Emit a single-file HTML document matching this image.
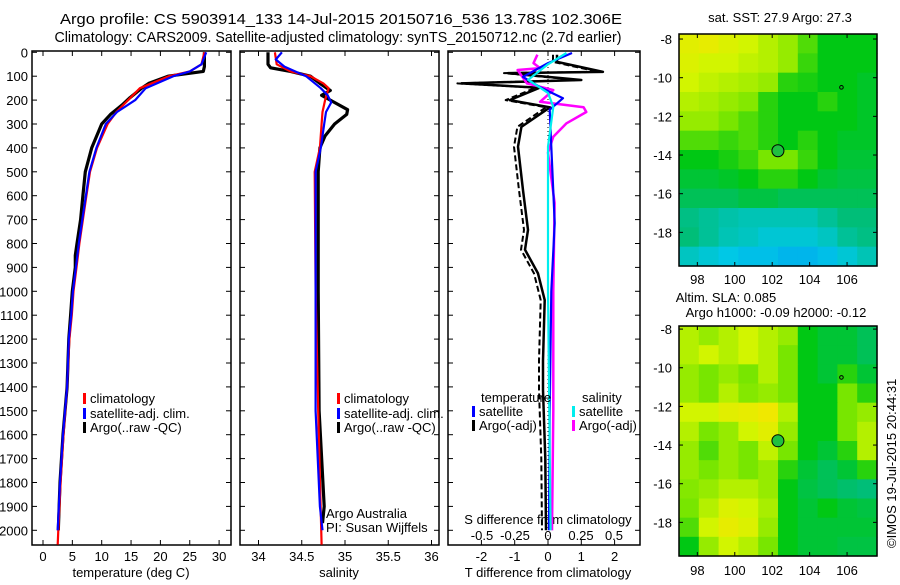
<!DOCTYPE html>
<html><head><meta charset="utf-8"><style>
body{margin:0;background:#fff;}
svg text{font-family:"Liberation Sans",sans-serif;fill:#000;}
</style></head><body>
<svg id="s" width="900" height="580" xmlns="http://www.w3.org/2000/svg">
<text x="341" y="24" font-size="15" text-anchor="middle" textLength="562" lengthAdjust="spacingAndGlyphs">Argo profile: CS 5903914_133 14-Jul-2015 20150716_536 13.78S 102.306E</text>
<text x="338" y="42" font-size="15" text-anchor="middle" textLength="567" lengthAdjust="spacingAndGlyphs">Climatology: CARS2009. Satellite-adjusted climatology: synTS_20150712.nc (2.7d earlier)</text>
<text x="780" y="22" font-size="13" text-anchor="middle">sat. SST: 27.9 Argo: 27.3</text>
<text x="726" y="302" font-size="13" text-anchor="middle">Altim. SLA: 0.085</text>
<text x="776" y="317" font-size="13" text-anchor="middle">Argo h1000: -0.09 h2000: -0.12</text>
<text transform="translate(896,548) rotate(-90)" font-size="13">©IMOS 19-Jul-2015 20:44:31</text>
</svg>
<script>
// ---- data ----
const depthTicks=[0,100,200,300,400,500,600,700,800,900,1000,1100,1200,1300,1400,1500,1600,1700,1800,1900,2000];
const tempTicks=[0,5,10,15,20,25,30];
const salTicks=[34,34.5,35,35.5,36];
const tdiffTicks=[-2,-1,0,1,2];
const sdiffTicks=[-0.5,-0.25,0,0.25,0.5];
const sdiffLabels=["-0.5","-0.25","0","0.25","0.5"];
const lonTicks=[98,100,102,104,106];
const latTicks=[-8,-10,-12,-14,-16,-18];

const tClimDepth=[0,50,80,100,150,200,250,300,400,500,600,700,800,900,1000,1100,1200,1400,1600,1800,2000,2060];
const tClimVal=[27.5,27,25,21.5,16.5,14.5,12.5,11,9.2,8,7.4,6.8,6.2,5.7,5.2,4.9,4.5,4.1,3.5,3.0,2.6,2.5];
const tSatDepth=[0,50,80,100,150,200,250,300,400,500,600,700,800,900,1000,1100,1200,1400,1600,1800,2000];
const tSatVal=[27.8,27,25,22.2,17.5,15.7,12.6,10.7,9.1,7.9,7.3,6.7,6.1,5.6,5.1,4.8,4.4,4.1,3.4,2.9,2.5];
const tArgoDepth=[0,60,80,100,130,150,190,220,260,300,400,500,600,700,800,850,900,1000,1100,1200,1400,1600,1800,2000];
const tArgoVal=[27.5,27.5,27.3,21.3,18,16.8,14.8,13.5,11.5,10,8.3,7.2,6.8,6.4,5.8,5.5,5.5,5.0,4.7,4.4,4.1,3.4,2.9,2.6];

const sClimDepth=[0,50,80,100,130,150,200,250,300,400,500,1000,1500,2060];
const sClimVal=[34.19,34.21,34.37,34.6,34.75,34.81,34.77,34.74,34.73,34.71,34.65,34.66,34.69,34.73];
const sSatDepth=[0,30,60,100,150,180,210,250,300,400,500,1000,1500,1900,2000];
const sSatVal=[34.27,34.2,34.3,34.55,34.72,34.8,34.84,34.78,34.76,34.72,34.66,34.66,34.66,34.71,34.74];
const sArgoDepth=[0,50,65,80,100,130,160,180,200,240,260,300,350,400,500,1000,1500,1900,1970];
const sArgoVal=[34.11,34.11,34.14,34.37,34.6,34.71,34.83,34.73,34.83,35.03,35.02,34.88,34.77,34.71,34.69,34.69,34.7,34.76,34.74];

const dTArgoDepth=[10,40,82,87,116,130,148,200,230,312,395,577,743,826,925,1037,1290,1413,1700,2000];
const dTArgoVal=[0.27,0.27,1.65,-1.2,1.0,-2.6,-0.25,-1.15,0.06,-0.8,-0.9,-0.75,-0.6,-0.69,-0.3,-0.1,-0.15,-0.15,-0.08,-0.06];
const dTSatDepth=[3,45,103,145,192,240,395,715,1000,1500,2000];
const dTSatVal=[0.72,0,-0.75,-0.25,0.45,0.05,0.1,0.2,0.1,0.05,0.03];
const dSSatDepth=[3,50,115,170,228,395,730,1000,1500,2000];
const dSSatVal=[0.14,0,-0.15,0,0.04,0,0,0,0.01,0.02];
const dSArgoDepth=[10,45,66,74,130,158,207,230,250,297,353,420,630,1000,1500,2000];
const dSArgoVal=[-0.08,-0.11,-0.06,-0.23,-0.16,0.04,-0.06,0.27,0.29,0.14,0.04,0,0.05,0.04,0.04,0.03];

const sstGrid=[
[.9,.92,.88,.85,.8,.75,.65,.55,.55,.55],
[.88,.85,.85,.82,.8,.75,.62,.55,.55,.55],
[.85,.82,.8,.78,.75,.6,.58,.55,.55,.52],
[.8,.78,.75,.72,.6,.55,.55,.6,.55,.52],
[.75,.75,.7,.65,.6,.55,.55,.55,.55,.52],
[.65,.65,.62,.65,.6,.55,.6,.55,.52,.52],
[.55,.55,.58,.62,.7,.7,.62,.55,.5,.5],
[.5,.5,.52,.55,.6,.6,.55,.5,.48,.48],
[.45,.45,.45,.48,.48,.45,.45,.45,.45,.45],
[.38,.35,.32,.3,.3,.3,.3,.35,.4,.4],
[.4,.35,.3,.28,.25,.25,.25,.28,.35,.38],
[.28,.25,.22,.2,.2,.18,.18,.2,.25,.3]];
const slaGrid=[
[.8,.75,.8,.85,.8,.75,.55,.5,.5,.45],
[.8,.85,.8,.85,.8,.7,.55,.5,.5,.45],
[.75,.7,.75,.7,.8,.7,.55,.5,.6,.5],
[.75,.7,.8,.72,.75,.7,.55,.55,.7,.6],
[.85,.85,.9,.92,.95,.8,.55,.55,.7,.75],
[.8,.7,.75,.85,.9,.75,.55,.55,.7,.8],
[.75,.65,.75,.7,.82,.7,.55,.5,.6,.8],
[.75,.7,.75,.7,.75,.6,.5,.45,.5,.6],
[.72,.75,.8,.8,.75,.55,.48,.45,.42,.4],
[.7,.8,.88,.85,.78,.55,.5,.55,.5,.48],
[.65,.85,.92,.88,.75,.55,.5,.5,.5,.5],
[.55,.75,.85,.8,.7,.55,.5,.5,.48,.48]];
const argoLon=102.306, argoLat=-13.78;
const otherLon=105.7, otherLat=-10.5;

// ---- helpers ----
const S=document.getElementById('s');const NS='http://www.w3.org/2000/svg';
function mk(tag,at,parent){const e=document.createElementNS(NS,tag);for(const k in at)e.setAttribute(k,at[k]);(parent||S).appendChild(e);return e;}
function tx(x,y,str,size,anchor){const e=mk('text',{x:x,y:y,'font-size':size,'text-anchor':anchor||'middle'});e.textContent=str;return e;}
const yD=d=>52.3+d*0.239;
const PB=545;
const xT=v=>43+v*5.87;
const xS=v=>258.5+(v-34)*86.5;
const xDT=v=>548+v*33.3;
const xDS=v=>548+v*132;
function line(ds,vs,fx,col,w,name,dash){
  const pts=ds.map((d,i)=>fx(vs[i]).toFixed(1)+','+yD(d).toFixed(1)).join(' ');
  const e=mk('polyline',{points:pts,fill:'none',stroke:col,'stroke-width':w,'stroke-linejoin':'round'});
  if(dash)e.setAttribute('stroke-dasharray',dash);
  
  
}
function box(x1,x2,name){
  const e=mk('rect',{x:x1,y:51,width:x2-x1,height:PB-51,fill:'none',stroke:'#000','stroke-width':1.5});
  
  
}
function xticks(vals,fx,labels,y,name){
  vals.forEach((v,i)=>{const x=fx(v);mk('line',{x1:x,x2:x,y1:PB,y2:PB-5,stroke:'#000'});mk('line',{x1:x,x2:x,y1:51,y2:56,stroke:'#000'});
    const t=tx(x,y,labels?labels[i]:String(v),13);
    
    });
}
function yticksPanel(x1,x2){depthTicks.forEach(d=>{const y=yD(d);mk('line',{x1:x1,x2:x1+5,y1:y,y2:y,stroke:'#000'});mk('line',{x1:x2,x2:x2-5,y1:y,y2:y,stroke:'#000'});});}
function legend(x,y,col,str){mk('rect',{x:x,y:y-10,width:3,height:11,fill:col});const t=tx(x+7,y,str,13,'start');
  
  }

depthTicks.forEach(d=>{const t=tx(28,yD(d)+5,String(d),13,'end');
  
  });

// panel 1
box(32,231,'temperature-panel');yticksPanel(32,231);
xticks(tempTicks,xT,null,561,'temp-tick-label');
tx(131,577,'temperature (deg C)',13);
line(tArgoDepth,tArgoVal,xT,'#000',3.2,'argo-temp-line');
line(tClimDepth,tClimVal,xT,'#f00',2.2,'clim-temp-line');
line(tSatDepth,tSatVal,xT,'#00f',2.2,'sat-temp-line');
legend(83,403,'#f00','climatology');legend(83,418,'#00f','satellite-adj. clim.');legend(83,432,'#000','Argo(..raw -QC)');

// panel 2
box(240,439,'salinity-panel');yticksPanel(240,439);
xticks(salTicks,xS,null,561,'sal-tick-label');
tx(339,577,'salinity',13);
line(sArgoDepth,sArgoVal,xS,'#000',3.2,'argo-sal-line');
line(sClimDepth,sClimVal,xS,'#f00',2.2,'clim-sal-line');
line(sSatDepth,sSatVal,xS,'#00f',2.2,'sat-sal-line');
legend(337,403,'#f00','climatology');legend(337,418,'#00f','satellite-adj. clim.');legend(337,432,'#000','Argo(..raw -QC)');
tx(326,518,'Argo Australia',13,'start');tx(326,532,'PI: Susan Wijffels',13,'start');

// panel 3
box(448,640,'difference-panel');yticksPanel(448,640);
mk('line',{x1:548,x2:548,y1:51,y2:PB,stroke:'#000','stroke-dasharray':'1,3'});
xticks(tdiffTicks,xDT,null,561,'tdiff-tick-label');
sdiffTicks.forEach((v,i)=>{const t=tx(xDS(v),540,sdiffLabels[i],13);
  
  });
tx(548,524,'S difference from climatology',13);
tx(548,577,'T difference from climatology',13);
line(dTArgoDepth,dTArgoVal,v=>xDT(v)-4,'#000',2,'argo-tdiff-raw-line','6,3');
line(dTArgoDepth,dTArgoVal,xDT,'#000',2.5,'argo-tdiff-line');
line(dSArgoDepth,dSArgoVal,xDS,'#f0f',2.5,'argo-sdiff-line');
line(dTSatDepth,dTSatVal,xDT,'#00f',2.2,'sat-tdiff-line');
line(dSSatDepth,dSSatVal,xDS,'#0ee',2.2,'sat-sdiff-line');
tx(481,402,'temperature',13,'start');tx(582,402,'salinity',13,'start');
legend(472,416,'#00f','satellite');legend(472,430,'#000','Argo(-adj)');
legend(572,416,'#0ee','satellite');legend(572,430,'#f0f','Argo(-adj)');

// maps
const stops=[[0,[0,96,255]],[0.22,[0,200,230]],[0.4,[0,190,120]],[0.55,[0,200,20]],[0.7,[120,230,0]],[0.85,[210,245,0]],[1,[255,225,0]]];
function cmap(v){for(let i=1;i<stops.length;i++){if(v<=stops[i][0]){const a=stops[i-1],b=stops[i],t=(v-a[0])/(b[0]-a[0]);
  return 'rgb('+a[1].map((c,k)=>Math.round(c+(b[1][k]-c)*t)).join(',')+')';}}return 'rgb(255,225,0)';}
function map(grid,top,bot,latTop,latBot,name,labY){
  const L=679,R=877,lon0=97.02,lon1=107.6;
  const fx=lon=>L+(lon-lon0)/(lon1-lon0)*(R-L);
  const fy=lat=>top+(latTop-lat)/(latTop-latBot)*(bot-top);
  const rows=grid.length,cols=grid[0].length;
  const cw=(R-L)/cols,ch=(bot-top)/rows;
  grid.forEach((row,r)=>row.forEach((v,c)=>{const e=mk('rect',{x:(L+c*cw).toFixed(2),y:(top+r*ch).toFixed(2),width:(cw+0.6).toFixed(2),height:(ch+0.6).toFixed(2),fill:cmap(v)});
    
    }));
  const b=mk('rect',{x:L,y:top,width:R-L,height:bot-top,fill:'none',stroke:'#000','stroke-width':1.5});
  
  
  lonTicks.forEach(v=>{const x=fx(v);mk('line',{x1:x,x2:x,y1:top,y2:top+4,stroke:'#000'});mk('line',{x1:x,x2:x,y1:bot,y2:bot-4,stroke:'#000'});
    const t=tx(x,labY,String(v),13);
    
    });
  latTicks.forEach(v=>{const y=fy(v);mk('line',{x1:L,x2:L+4,y1:y,y2:y,stroke:'#000'});mk('line',{x1:R,x2:R-4,y1:y,y2:y,stroke:'#000'});
    const t=tx(672,y+5,String(v),13,'end');
    
    });
  const c=mk('circle',{cx:fx(argoLon),cy:fy(argoLat),r:6,fill:'#20c040',stroke:'#000','stroke-width':1});
  
  
  const d=mk('circle',{cx:fx(otherLon),cy:fy(otherLat),r:1.8,fill:'none',stroke:'#000','stroke-width':1});
  
  
}
map(sstGrid,34,266,-7.74,-19.74,'sst-map',284);
map(slaGrid,326,556,-7.84,-19.74,'sla-map',575);
</script>
</body></html>
